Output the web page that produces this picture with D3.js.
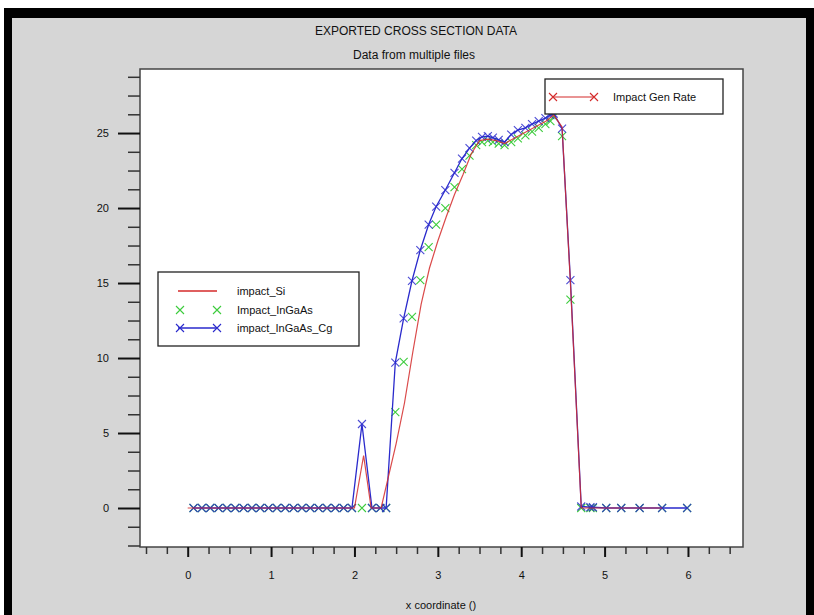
<!DOCTYPE html>
<html>
<head>
<meta charset="utf-8">
<script src="https://cdn.jsdelivr.net/npm/d3@7"></script>
<style>
  html, body { margin: 0; padding: 0; background: #ffffff; }
  svg { display: block; font-family: "Liberation Sans", Arial, sans-serif; }
</style>
</head>
<body>
<svg id="chart" width="814" height="615"></svg>
<script>
// Cross-section samples (x coordinate) shared by the two InGaAs exports
const meshX = [0.07, 0.17, 0.27, 0.37, 0.47, 0.57, 0.67, 0.77, 0.87, 0.97,
               1.07, 1.17, 1.27, 1.37, 1.47, 1.57, 1.67, 1.77, 1.87, 1.97,
               2.09, 2.21, 2.31, 2.38,
               2.49, 2.59, 2.69, 2.79, 2.89, 2.98, 3.09, 3.20, 3.29, 3.38, 3.46,
               3.53, 3.60, 3.66, 3.73, 3.80, 3.88, 3.96, 4.05, 4.13, 4.21, 4.29, 4.35, 4.39,
               4.49, 4.59, 4.72, 4.83, 4.86, 5.02, 5.20, 5.42, 5.69, 5.99];

// impact_InGaAs_Cg
const cgY = [0, 0, 0, 0, 0, 0, 0, 0, 0, 0,
             0, 0, 0, 0, 0, 0, 0, 0, 0, 0,
             5.6, 0, 0, 0,
             9.7, 12.65, 15.15, 17.2, 18.9, 20.1, 21.2, 22.35, 23.3, 24.0, 24.5,
             24.75, 24.8, 24.7, 24.55, 24.4, 24.9, 25.2, 25.35, 25.6, 25.8, 26.0, 26.2, 26.3,
             25.3, 15.2, 0.1, 0.05, 0.05, 0, 0, 0, 0, 0];

// Impact_InGaAs
const ingaasY = [0, 0, 0, 0, 0, 0, 0, 0, 0, 0,
                 0, 0, 0, 0, 0, 0, 0, 0, 0, 0,
                 0, 0, 0, 0,
                 6.4, 9.75, 12.75, 15.2, 17.4, 18.9, 20.0, 21.4, 22.6, 23.5, 24.2,
                 24.4, 24.5, 24.4, 24.3, 24.2, 24.4, 24.65, 24.85, 25.1, 25.35, 25.6, 25.8, 26.1,
                 24.8, 13.9, 0, 0, 0, 0, 0, 0, 0, 0];

// impact_Si (own sampling)
const siX = [0.0, 1.0, 2.0, 2.11, 2.2, 2.32, 2.5, 2.6, 2.7, 2.8, 2.9, 3.0, 3.1, 3.2, 3.3,
             3.4, 3.5, 3.6, 3.7, 3.8, 3.9, 4.0, 4.1, 4.2, 4.3, 4.39, 4.49, 4.59, 4.72, 5.2, 5.69];
const siY = [0, 0, 0, 3.5, 0, 0, 4.3, 7.0, 10.4, 13.6, 16.0, 17.8, 19.4, 20.9, 22.2,
             23.6, 24.5, 24.6, 24.5, 24.3, 24.6, 24.9, 25.2, 25.5, 25.8, 26.2, 25.4, 15.0, 0, 0, 0];

const xTicks = [0, 1, 2, 3, 4, 5, 6];
const yTicks = [0, 5, 10, 15, 20, 25];
const legendNames = ["impact_Si", "Impact_InGaAs", "impact_InGaAs_Cg"];
const quantityName = "Impact Gen Rate";
const titleText = "EXPORTED CROSS SECTION DATA";
const subtitleText = "Data from multiple files";
const xTitle = "x coordinate ()";

const colors = { si: "#d42a2a", ingaas: "#3ccc3c", cg: "#2a2acc" };

const svg = d3.select("#chart");

// window frame
svg.append("rect").attr("x", 0).attr("y", 0).attr("width", 814).attr("height", 615).attr("fill", "#ffffff");
svg.append("rect").attr("x", 4).attr("y", 8).attr("width", 810).attr("height", 615).attr("fill", "#000000");
svg.append("rect").attr("x", 12).attr("y", 18).attr("width", 794).attr("height", 600).attr("fill", "#d6d6d6");

// titles
svg.append("text").attr("x", 416).attr("y", 35).attr("text-anchor", "middle")
  .attr("font-size", 12).attr("fill", "#111").text(titleText);
svg.append("text").attr("x", 414).attr("y", 59).attr("text-anchor", "middle")
  .attr("font-size", 12).attr("fill", "#111").text(subtitleText);

const plot = { left: 140, right: 743, top: 69, bottom: 547 };
const x = d3.scaleLinear().domain([-0.572, 6.66]).range([plot.left, plot.right]);
const y = d3.scaleLinear().domain([-2.6, 29.27]).range([plot.bottom, plot.top]);

svg.append("rect").attr("x", plot.left).attr("y", plot.top)
  .attr("width", plot.right - plot.left).attr("height", plot.bottom - plot.top)
  .attr("fill", "#ffffff").attr("stroke", "#444").attr("stroke-width", 1.5);

// axes: long labelled ticks plus shorter minor ticks
const minorX = d3.range(-0.5, 6.51, 0.25).filter(v => Math.abs(v - Math.round(v)) > 1e-6);
const minorY = d3.range(-2.5, 29.0, 1.25).filter(v => Math.abs(v / 5 - Math.round(v / 5)) > 1e-6);

function styleAxis(g) {
  g.select(".domain").remove();
  g.selectAll("line").attr("stroke", "#111").attr("stroke-width", 2);
  g.selectAll("text").attr("font-size", 11).attr("fill", "#111").attr("font-family", "Liberation Sans, Arial, sans-serif");
}

svg.append("g").attr("transform", `translate(${plot.left},0)`)
  .call(d3.axisLeft(y).tickValues(minorY).tickSize(12).tickFormat(""))
  .call(styleAxis).selectAll("line").attr("stroke", "#333").attr("stroke-width", 1.5);
svg.append("g").attr("transform", `translate(${plot.left},0)`)
  .call(d3.axisLeft(y).tickValues(yTicks).tickSize(22).tickPadding(9).tickFormat(d3.format("d")))
  .call(styleAxis);

svg.append("g").attr("transform", `translate(0,${plot.bottom})`)
  .call(d3.axisBottom(x).tickValues(minorX).tickSize(7).tickFormat(""))
  .call(styleAxis).selectAll("line").attr("stroke", "#333").attr("stroke-width", 1.5);
svg.append("g").attr("transform", `translate(0,${plot.bottom})`)
  .call(d3.axisBottom(x).tickValues(xTicks).tickSize(10).tickPadding(14).tickFormat(d3.format("d")))
  .call(styleAxis);

svg.append("text").attr("x", 441).attr("y", 609).attr("text-anchor", "middle")
  .attr("font-size", 11).attr("fill", "#111").text(xTitle);

// series
const cross = "M-4,-4L4,4M-4,4L4,-4";
const line = d3.line().x(d => x(d[0])).y(d => y(d[1]));
const cgPts = meshX.map((v, i) => [v, cgY[i]]);
const inPts = meshX.map((v, i) => [v, ingaasY[i]]);
const siPts = siX.map((v, i) => [v, siY[i]]);

const marks = svg.append("g");
marks.selectAll("path.in").data(inPts).join("path").attr("class", "in")
  .attr("transform", d => `translate(${x(d[0])},${y(d[1])})`)
  .attr("d", cross).attr("stroke", colors.ingaas).attr("stroke-width", 1.1).attr("fill", "none");

marks.append("path").datum(cgPts).attr("d", line)
  .attr("fill", "none").attr("stroke", colors.cg).attr("stroke-width", 1.3);
marks.selectAll("path.cg").data(cgPts).join("path").attr("class", "cg")
  .attr("transform", d => `translate(${x(d[0])},${y(d[1])})`)
  .attr("d", cross).attr("stroke", colors.cg).attr("stroke-width", 1.1).attr("fill", "none").attr("opacity", 0.85);

marks.append("path").datum(siPts).attr("d", line)
  .attr("fill", "none").attr("stroke", colors.si).attr("stroke-width", 1.2).attr("opacity", 0.85);

// quantity legend (top right)
const lg2 = svg.append("g");
lg2.append("rect").attr("x", 545).attr("y", 79).attr("width", 178).attr("height", 35)
  .attr("fill", "#fff").attr("stroke", "#222").attr("stroke-width", 1.3);
lg2.append("line").attr("x1", 553).attr("x2", 594).attr("y1", 97).attr("y2", 97)
  .attr("stroke", colors.si).attr("stroke-width", 1.2);
[553, 594].forEach(px => lg2.append("path").attr("transform", `translate(${px},97)`)
  .attr("d", cross).attr("stroke", colors.si).attr("stroke-width", 1.1).attr("fill", "none"));
lg2.append("text").attr("x", 613).attr("y", 101).attr("font-size", 11).attr("fill", "#111").text(quantityName);

// file legend (left)
const lg1 = svg.append("g");
lg1.append("rect").attr("x", 158).attr("y", 272).attr("width", 201).attr("height", 74)
  .attr("fill", "#fff").attr("stroke", "#222").attr("stroke-width", 1.3);
const rows = [
  { name: legendNames[0], color: colors.si, y: 291, lineOn: true, markers: false },
  { name: legendNames[1], color: colors.ingaas, y: 310, lineOn: false, markers: true },
  { name: legendNames[2], color: colors.cg, y: 328, lineOn: true, markers: true }
];
rows.forEach(r => {
  if (r.lineOn) lg1.append("line").attr("x1", 178).attr("x2", 217).attr("y1", r.y).attr("y2", r.y)
    .attr("stroke", r.color).attr("stroke-width", 1.3);
  if (r.markers) [180, 217].forEach(px => lg1.append("path").attr("transform", `translate(${px},${r.y})`)
    .attr("d", cross).attr("stroke", r.color).attr("stroke-width", 1.1).attr("fill", "none"));
  lg1.append("text").attr("x", 237).attr("y", r.y + 4).attr("font-size", 11).attr("fill", "#111").text(r.name);
});
</script>
</body>
</html>
